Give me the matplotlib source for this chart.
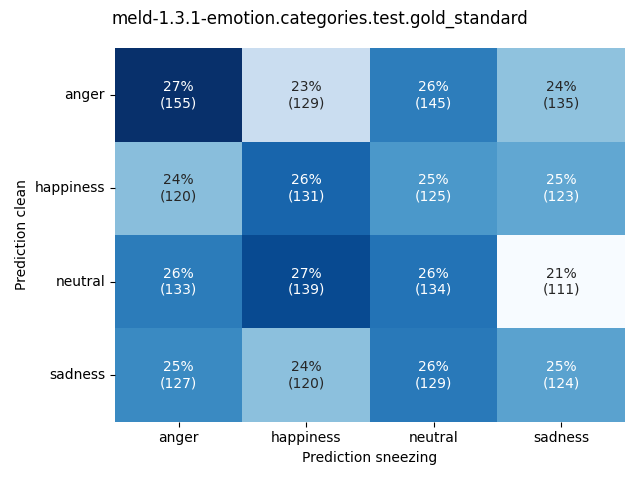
import numpy as np
import pandas as pd
import seaborn as sns
import matplotlib
matplotlib.use("Agg")
import matplotlib.pyplot as plt

labels = ["anger", "happiness", "neutral", "sadness"]
counts = np.array([
    [155, 129, 145, 135],
    [120, 131, 125, 123],
    [133, 139, 134, 111],
    [127, 120, 129, 124],
])

perc = counts / counts.sum(axis=1, keepdims=True) * 100
annot = np.array([[f"{perc[i, j]:.0f}%\n({counts[i, j]})" for j in range(4)] for i in range(4)])
df = pd.DataFrame(perc, index=labels, columns=labels)

fig, ax = plt.subplots(figsize=(6.4, 4.8), dpi=100)
sns.heatmap(df, annot=annot, fmt="", cmap="Blues", cbar=False, ax=ax)
ax.set_xlabel("Prediction sneezing")
ax.set_ylabel("Prediction clean")
plt.yticks(rotation=0)
fig.suptitle("meld-1.3.1-emotion.categories.test.gold_standard")
plt.tight_layout()
plt.savefig("out.png")
